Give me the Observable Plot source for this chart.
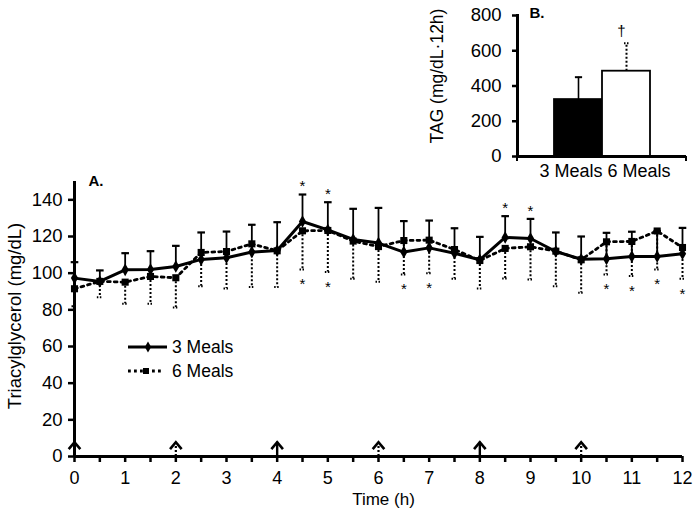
<!DOCTYPE html>
<html><head><meta charset="utf-8">
<script src="https://cdn.jsdelivr.net/npm/d3@7"></script>
<script src="https://cdn.jsdelivr.net/npm/@observablehq/plot@0.6"></script>
<style>
body{margin:0;background:#fff;}
#wrap{position:relative;width:699px;height:515px;overflow:hidden;}
#wrap > svg{position:absolute;}
</style></head><body><div id="wrap"></div>
<script>
// ---------- data ----------
const seriesNames = ["3 Meals", "6 Meals"];
const times = [0,0.5,1,1.5,2,2.5,3,3.5,4,4.5,5,5.5,6,6.5,7,7.5,8,8.5,9,9.5,10,10.5,11,11.5,12];
const meals3 = [97.3,95.5,101.8,102,103.6,107.5,108.4,111.5,112.4,128.2,123.6,118.4,116.4,111.5,113.8,110.9,107.3,119.5,118.9,111.8,107.6,107.8,109.1,109.1,110.6];
const meals3Upper = [106,101.5,110.9,112,114.9,122.2,122.7,126.4,127.8,142.9,138.7,135.1,135.6,128.4,128.7,124.5,119.8,131.1,129.6,122.2,120,122,122.6,123,124.7];
const meals6 = [91.5,95.5,95.1,98.2,97.5,111.3,111.8,116,112.2,123.1,123.3,117.5,114.5,117.8,118,112.9,106.9,113.5,114.4,112,107.3,117.1,117.3,123,114];
const meals6Lower = [82,86.9,83.3,83.3,81.3,92.9,91.6,92.4,92.4,102,100.7,96.9,95.3,99.3,100,96.9,91.6,97.1,96.5,92.9,89.3,99.3,98.4,102,96.9];
const starsAbove = [4.5,5,8.5,9];
const starsBelow = [4.5,5,6.5,7,10.5,11,11.5,12];
const mealTimes3 = [0,4,8];
const mealTimesExtra6 = [2,6,10];
const yTicks = [0,20,40,60,80,100,120,140];
const xTicks = [0,0.5,1,1.5,2,2.5,3,3.5,4,4.5,5,5.5,6,6.5,7,7.5,8,8.5,9,9.5,10,10.5,11,11.5,12];
const xTitle = "Time (h)";
const yTitle = "Triacylglycerol (mg/dL)";

const barGroups = ["3 Meals", "6 Meals"];
const barValues = [323, 484];
const barErrors = [450, 643];
const barMarks = ["", "†"];
const insetTicks = [0,200,400,600,800];
const insetTitle = "TAG (mg/dL·12h)";

// ---------- helpers ----------
const FONT = '"Liberation Sans", Arial, Helvetica, sans-serif';
const capSym = {draw(c, s){const w=Math.sqrt(s/Math.PI); c.moveTo(-w,0); c.lineTo(w,0);}};
const chevSym = {draw(c, s){const w=Math.sqrt(s/Math.PI); c.moveTo(-w,w*1.2); c.lineTo(0,0); c.lineTo(w,w*1.2);}};
const ARROW_H = 7.8;

const rows = times.map((t,i)=>({t, m3: meals3[i], m3u: meals3Upper[i], m6: meals6[i], m6l: meals6Lower[i]}));
const wrap = document.getElementById("wrap");

// ---------- main chart (A) ----------
const main = Plot.plot({
  width: 699, height: 515,
  marginLeft: 74, marginRight: 17, marginTop: 181, marginBottom: 59,
  x: {domain: [0, 12]},
  y: {domain: [0, 150]},
  style: {fontFamily: FONT, fontSize: "17px", color: "black", background: "transparent", overflow: "visible"},
  marks: [
    Plot.axisY({ticks: yTicks, tickSize: 6, tickPadding: 6, strokeWidth: 2.5, fontSize: 18.5, label: null}),
    Plot.axisX({ticks: xTicks, tickFormat: d => Number.isInteger(d) ? String(d) : "", tickSize: 6, tickPadding: 9, strokeWidth: 2.5, fontSize: 18, label: null}),
    Plot.ruleX([0], {strokeWidth: 3}),
    Plot.ruleY([0], {strokeWidth: 3}),
    Plot.ruleX(mealTimes3, {x: d => d, y1: 0, y2: ARROW_H, strokeWidth: 2.4}),
    Plot.ruleX(mealTimesExtra6, {x: d => d, y1: 0, y2: ARROW_H, strokeWidth: 2.2, strokeDasharray: "2,2"}),
    Plot.dot(mealTimes3.concat(mealTimesExtra6), {x: d => d, y: ARROW_H, symbol: chevSym, r: 5.8, fill: "none", stroke: "black", strokeWidth: 2.6}),
    Plot.ruleX(rows, {x: "t", y1: "m3", y2: "m3u", strokeWidth: 1.8}),
    Plot.dot(rows, {x: "t", y: "m3u", symbol: capSym, r: 3.8, stroke: "black", strokeWidth: 2.2, fill: "none"}),
    Plot.ruleX(rows, {x: "t", y1: "m6", y2: "m6l", strokeWidth: 2, strokeDasharray: "2,2"}),
    Plot.dot(rows, {x: "t", y: "m6l", symbol: capSym, r: 3, stroke: "black", strokeWidth: 2, fill: "none", strokeDasharray: "1.5,1.5"}),
    Plot.line(rows, {x: "t", y: "m3", stroke: "black", strokeWidth: 3}),
    Plot.line(rows, {x: "t", y: "m6", stroke: "black", strokeWidth: 2.8, strokeDasharray: "2.8,4"}),
    Plot.dot(rows, {x: "t", y: "m3", symbol: "diamond", r: 3.8, fill: "black"}),
    Plot.dot(rows, {x: "t", y: "m6", symbol: "square", r: 4, fill: "black"}),
    Plot.text(rows.filter(r => starsAbove.includes(r.t)), {x: "t", y: "m3u", text: () => "*", dy: -8, fontSize: 15, fill: "black", lineAnchor: "middle"}),
    Plot.text(rows.filter(r => starsBelow.includes(r.t)), {x: "t", y: "m6l", text: () => "*", dy: 15, fontSize: 15, fill: "black", lineAnchor: "middle"}),
    Plot.text([yTitle], {text: d => d, frameAnchor: "left", rotate: -90, dx: -59, dy: -3, fontSize: 18.5, textAnchor: "middle", lineAnchor: "middle"}),
    Plot.text([xTitle], {text: d => d, frameAnchor: "bottom", dx: 5, dy: 43, lineAnchor: "middle"}),
    Plot.text(["A."], {text: d => d, frameAnchor: "top-left", dx: 14, dy: 0, fontWeight: "bold", fontSize: 15, textAnchor: "start", lineAnchor: "middle"})
  ]
});
main.style.left = "0px"; main.style.top = "0px";
wrap.appendChild(main);

// ---------- inset (B) ----------
const barRows = barGroups.map((g,i)=>({group: g, value: barValues[i], err: barErrors[i], mark: barMarks[i]}));
const inset = Plot.plot({
  width: 299, height: 185,
  marginLeft: 117, marginRight: 13, marginTop: 15, marginBottom: 29,
  x: {domain: barGroups, paddingInner: 0, paddingOuter: 0.74, axis: null},
  y: {domain: [0, 800]},
  color: {domain: barGroups, range: ["black", "white"]},
  style: {fontFamily: FONT, fontSize: "18px", color: "black", background: "transparent", overflow: "visible"},
  marks: [
    Plot.ruleX(barRows.slice(0,1), {x: "group", y1: "value", y2: "err", strokeWidth: 1.6}),
    Plot.dot(barRows.slice(0,1), {x: "group", y: "err", symbol: capSym, r: 3.6, stroke: "black", strokeWidth: 2, fill: "none"}),
    Plot.ruleX(barRows.slice(1), {x: "group", y1: "value", y2: "err", strokeWidth: 2, strokeDasharray: "2,2"}),
    Plot.dot(barRows.slice(1), {x: "group", y: "err", symbol: capSym, r: 2.5, stroke: "black", strokeWidth: 2, fill: "none", strokeDasharray: "1.5,1.5"}),
    Plot.barY(barRows, {x: "group", y: "value", fill: "group", stroke: "black", strokeWidth: 1.8}),
    Plot.text(barRows.filter(d => d.mark), {x: "group", y: "err", text: "mark", dx: -5, dy: -12, fontSize: 15, lineAnchor: "middle"}),
    Plot.axisY({ticks: insetTicks, tickSize: 5, tickPadding: 11, strokeWidth: 2.5, fontSize: 18.5, label: null}),
    Plot.frame({anchor: "left", strokeWidth: 3}),
    Plot.ruleY([0], {strokeWidth: 3}),
    Plot.text([barGroups.join(" ")], {text: d => d, frameAnchor: "bottom", dx: 3, dy: 20, lineAnchor: "bottom"}),
    Plot.text([insetTitle], {text: d => d, frameAnchor: "left", rotate: -90, dx: -80, dy: -10, fontSize: 17.5, textAnchor: "middle", lineAnchor: "middle"}),
    Plot.text(["B."], {text: d => d, frameAnchor: "top-left", dx: 12, dy: -2, fontWeight: "bold", fontSize: 15, textAnchor: "start", lineAnchor: "middle"})
  ]
});
{
  const xr = inset.scale("x").range;
  const y0 = inset.scale("y").apply(0);
  d3.select(inset).append("g").attr("stroke", "black").attr("stroke-width", 2)
    .selectAll("line").data(xr).join("line")
    .attr("x1", d => d).attr("x2", d => d).attr("y1", y0).attr("y2", y0 + 5);
}
inset.style.left = "400px"; inset.style.top = "0px";
wrap.appendChild(inset);

// ---------- legend ----------
const leg = d3.create("svg").attr("width", 140).attr("height", 50)
  .style("left", "120px").style("top", "335px")
  .attr("font-family", FONT).attr("font-size", 17.5);
const r1 = leg.append("g").attr("transform", "translate(0,12)");
r1.append("line").attr("x1", 8).attr("x2", 47).attr("stroke", "black").attr("stroke-width", 3);
r1.append("path").attr("d", d3.symbol(d3.symbolDiamond, 34)()).attr("transform", "translate(28,0)");
r1.append("text").attr("x", 52).attr("y", 6).text(seriesNames[0]);
const r2 = leg.append("g").attr("transform", "translate(0,36)");
r2.append("line").attr("x1", 8).attr("x2", 44).attr("stroke", "black").attr("stroke-width", 2.8).attr("stroke-dasharray", "2.8,3.2");
r2.append("path").attr("d", d3.symbol(d3.symbolSquare, 36)()).attr("transform", "translate(26,0)");
r2.append("text").attr("x", 52).attr("y", 6).text(seriesNames[1]);
wrap.appendChild(leg.node());
</script>
</body></html>
